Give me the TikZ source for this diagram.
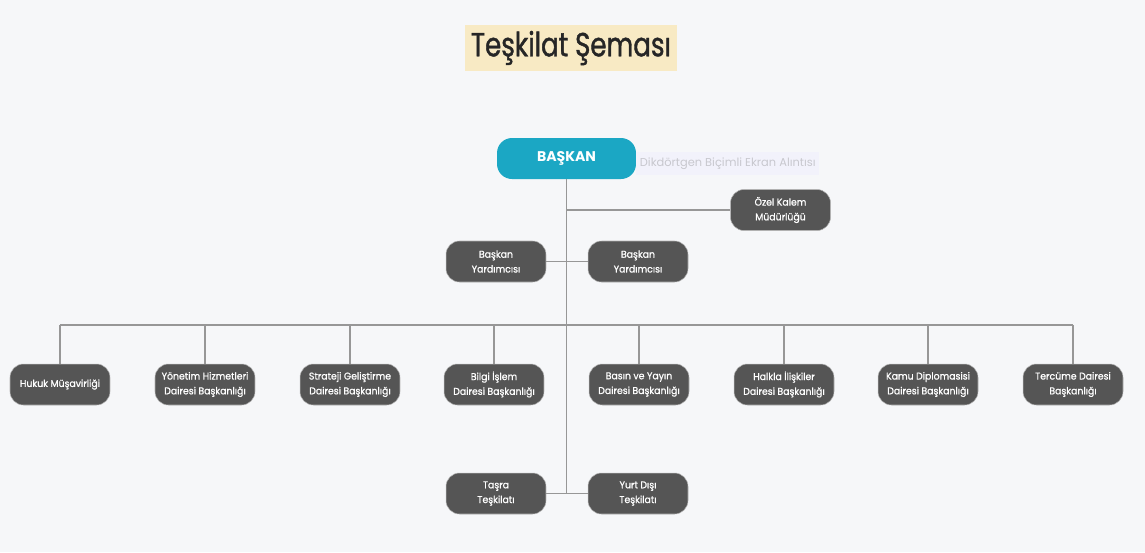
\documentclass[tikz,border=0pt]{standalone}
\usepackage{fontspec}
\setmainfont{Poppins}
\newfontfamily\titlefont[FakeStretch=0.78,FakeBold=1.2]{Poppins}
\newfontfamily\boxfont[FakeStretch=0.95,FakeBold=0.9]{Poppins}
\usepackage{tikz}

\definecolor{bgcol}{HTML}{F6F7F9}
\definecolor{titlebg}{HTML}{F8EAC4}
\definecolor{teal}{HTML}{1BA7C4}
\definecolor{boxgray}{HTML}{555555}
\definecolor{linegray}{HTML}{979797}

\begin{document}
\begin{tikzpicture}[x=0.02cm,y=-0.02cm]
    \tikzset{
      unit/.style={rounded corners=0.27cm, fill=boxgray, draw=gray!60, line width=0.3pt,
        text=white, minimum width=2cm, minimum height=0.82cm, align=center,
        inner sep=1pt, font=\boxfont\fontsize{5.6}{8.4}\selectfont},
      head/.style={rounded corners=0.3cm, fill=teal, text=white, minimum width=2.78cm,
        minimum height=0.82cm, font=\fontsize{8}{10}\selectfont\bfseries},
      edge/.style={draw=linegray, line width=0.9pt}
    }
    % background
    \fill[bgcol] (0,0) rectangle (1145,552);
    \useasboundingbox (0,0) rectangle (1145,552);

    % title
    \node[fill=titlebg, minimum width=4.1cm, minimum height=0.86cm,
      font=\titlefont\fontsize{19}{22}\selectfont, text=black!85] (title) at (571,48) {Teşkilat Şeması};

    % faint screenshot caption
    \node[fill=blue!8, fill opacity=0.35, text opacity=0.3, text=black!60, anchor=west,
      minimum width=2.9cm, minimum height=0.46cm, inner xsep=2pt,
      font=\fontsize{6.5}{8}\selectfont] (alt) at (636,163.5)
      {Dikdörtgen Biçimli Ekran Alıntısı};

    % vertices
    \node[head] (baskan) at (566.5,158.5) {BAŞKAN};
    \node[unit] (ozel) at (780.5,210) {Özel Kalem\\Müdürlüğü};
    \node[unit] (yrd1) at (496,261.5) {Başkan\\Yardımcısı};
    \node[unit] (yrd2) at (638,261.5) {Başkan\\Yardımcısı};
    \node[unit] (d1) at (60,384.5) {Hukuk Müşavirliği};
    \node[unit] (d2) at (205,384.5) {Yönetim Hizmetleri\\Dairesi Başkanlığı};
    \node[unit] (d3) at (350,384.5) {Strateji Geliştirme\\Dairesi Başkanlığı};
    \node[unit] (d4) at (494,384.5) {Bilgi İşlem\\Dairesi Başkanlığı};
    \node[unit] (d5) at (639,384.5) {Basın ve Yayın\\Dairesi Başkanlığı};
    \node[unit] (d6) at (784,384.5) {Halkla İlişkiler\\Dairesi Başkanlığı};
    \node[unit] (d7) at (928,384.5) {Kamu Diplomasisi\\Dairesi Başkanlığı};
    \node[unit] (d8) at (1073,384.5) {Tercüme Dairesi\\Başkanlığı};
    \node[unit] (tasra) at (496,493.5) {Taşra\\Teşkilatı};
    \node[unit] (yurtdisi) at (638,493.5) {Yurt Dışı\\Teşkilatı};
    \coordinate (bus) at (567,325);

    %edges
    \draw[edge] (baskan.south) -- (baskan.south |- tasra.east);
    \draw[edge] (baskan.south |- ozel) -- (ozel);
    \draw[edge] (yrd1) -- (yrd2);
    \draw[edge] (tasra) -- (yurtdisi);
    \draw[edge] (d1.north |- bus) -- (d8.north |- bus);
    \foreach \d in {d1,d2,d3,d4,d5,d6,d7,d8}
      \draw[edge] (\d.north |- bus) -- (\d.north);
\end{tikzpicture}
\end{document}
